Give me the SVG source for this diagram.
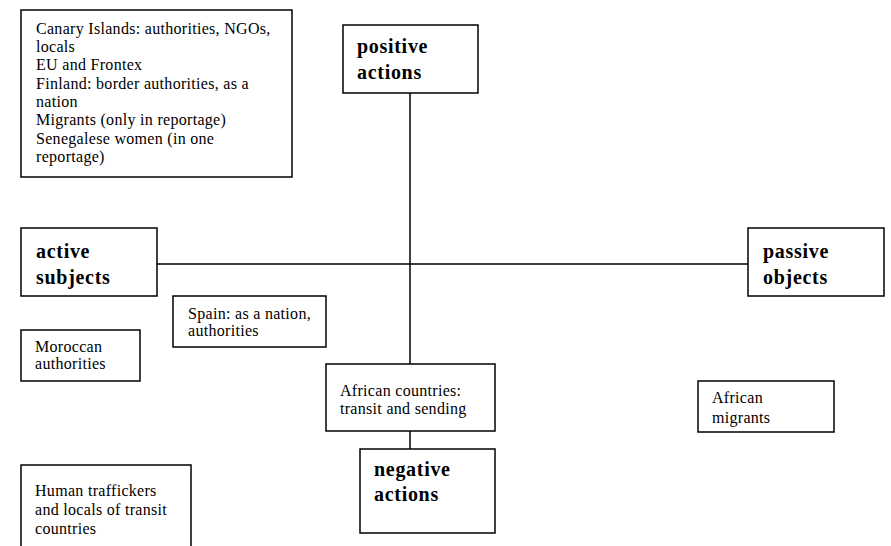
<svg xmlns="http://www.w3.org/2000/svg" width="891" height="546" viewBox="0 0 891 546">
<style>
.box{fill:#fff;stroke:#000;stroke-width:1.5}
.t{font-family:"Liberation Serif","Times New Roman",serif;font-size:16px;letter-spacing:0.3px;fill:#000}
.b{font-family:"Liberation Serif","Times New Roman",serif;font-size:20px;letter-spacing:0.7px;font-weight:bold;fill:#000}
.ln{stroke:#000;stroke-width:1.5;fill:none}
</style>
<rect width="891" height="546" fill="#fff"/>
<g id="connectors">
<line class="ln" x1="410" y1="93" x2="410" y2="364"/>
<line class="ln" x1="410" y1="431" x2="410" y2="449"/>
<line class="ln" x1="157" y1="264" x2="748" y2="264"/>
</g>
<g id="actors-top">
<rect class="box" x="21" y="10" width="271" height="167"/>
<text class="t" x="36"><tspan x="36" y="34">Canary Islands: authorities, NGOs,</tspan><tspan x="36" y="52">locals</tspan><tspan x="36" y="70">EU and Frontex</tspan><tspan x="36" y="89">Finland: border authorities, as a</tspan><tspan x="36" y="107">nation</tspan><tspan x="36" y="125">Migrants (only in reportage)</tspan><tspan x="36" y="144">Senegalese women (in one</tspan><tspan x="36" y="162">reportage)</tspan></text>
</g>
<g id="positive">
<rect class="box" x="343" y="25" width="135" height="68"/>
<text class="b"><tspan x="357" y="53">positive</tspan><tspan x="357" y="79">actions</tspan></text>
</g>
<g id="active">
<rect class="box" x="21" y="228" width="136" height="68"/>
<text class="b"><tspan x="36" y="258">active</tspan><tspan x="36" y="284">subjects</tspan></text>
</g>
<g id="passive">
<rect class="box" x="748" y="228" width="136" height="68"/>
<text class="b"><tspan x="763" y="258">passive</tspan><tspan x="763" y="284">objects</tspan></text>
</g>
<g id="spain">
<rect class="box" x="173" y="296" width="153" height="51"/>
<text class="t"><tspan x="188" y="319">Spain: as a nation,</tspan><tspan x="188" y="336">authorities</tspan></text>
</g>
<g id="moroccan">
<rect class="box" x="21" y="330" width="119" height="51"/>
<text class="t"><tspan x="35" y="352">Moroccan</tspan><tspan x="35" y="369">authorities</tspan></text>
</g>
<g id="african-countries">
<rect class="box" x="326" y="364" width="169" height="67"/>
<text class="t"><tspan x="340" y="396">African countries:</tspan><tspan x="340" y="414">transit and sending</tspan></text>
</g>
<g id="negative">
<rect class="box" x="360" y="449" width="135" height="84"/>
<text class="b"><tspan x="374" y="476">negative</tspan><tspan x="374" y="501">actions</tspan></text>
</g>
<g id="african-migrants">
<rect class="box" x="698" y="381" width="136" height="51"/>
<text class="t"><tspan x="712" y="403">African</tspan><tspan x="712" y="423">migrants</tspan></text>
</g>
<g id="traffickers">
<rect class="box" x="21" y="465" width="170" height="90"/>
<text class="t"><tspan x="35" y="496">Human traffickers</tspan><tspan x="35" y="515">and locals of transit</tspan><tspan x="35" y="534">countries</tspan></text>
</g>
</svg>
